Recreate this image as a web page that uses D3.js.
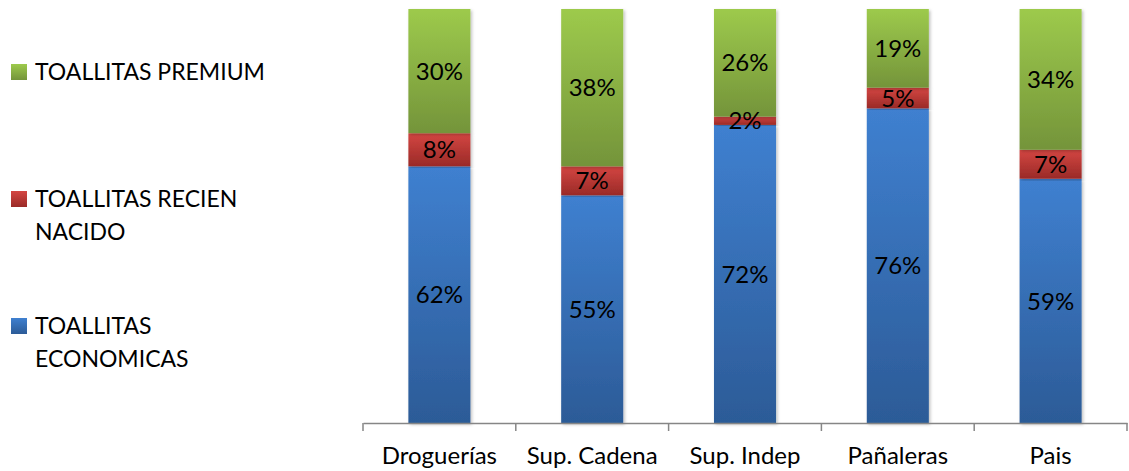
<!DOCTYPE html>
<html>
<head>
<meta charset="utf-8">
<script src="https://cdn.jsdelivr.net/npm/d3@7"></script>
<style>
  body { margin: 0; background: #fff; }
  text { font-family: Lato, 'Open Sans', sans-serif; fill: #000; }
</style>
</head>
<body>
<div id="chart"></div>
<script>
const categories = ['Droguerías', 'Sup. Cadena', 'Sup. Indep', 'Pañaleras', 'Pais'];
const economicas = [62, 55, 72, 76, 59];
const recienNacido = [8, 7, 2, 5, 7];
const premium = [30, 38, 26, 19, 34];
const seriesNames = ['TOALLITAS ECONOMICAS', 'TOALLITAS RECIEN NACIDO', 'TOALLITAS PREMIUM'];

const W = 1129, H = 471;
const margin = { t: 9, r: 2, b: 48, l: 363 };
const innerWidth = W - margin.l - margin.r;
const innerHeight = H - margin.t - margin.b;

// gradient pairs per series (top, bottom)
const grads = [
  ['#3f80d0', '#2c5b97'],
  ['#d44642', '#9a2a27'],
  ['#9dca4c', '#74943a']
];

const rows = categories.map((c, i) => ({
  cat: c, s0: economicas[i], s1: recienNacido[i], s2: premium[i]
}));
const stack = d3.stack().keys(['s0', 's1', 's2'])(rows);

const svg = d3.select('#chart').append('svg')
  .attr('width', W).attr('height', H);

const defs = svg.append('defs');
grads.forEach((g, i) => {
  const lg = defs.append('linearGradient')
    .attr('id', 'g' + i).attr('x1', 0).attr('y1', 0).attr('x2', 0).attr('y2', 1);
  lg.append('stop').attr('offset', '0%').attr('stop-color', g[0]);
  lg.append('stop').attr('offset', '100%').attr('stop-color', g[1]);
});
const f = defs.append('filter').attr('id', 'shadow')
  .attr('x', '-20%').attr('y', '-5%').attr('width', '140%').attr('height', '110%');
f.append('feDropShadow').attr('dx', 1.5).attr('dy', 1.5).attr('stdDeviation', 1.5)
  .attr('flood-color', '#000').attr('flood-opacity', 0.25);

const x = d3.scaleBand().domain(categories).range([0, innerWidth]).paddingInner(0.594).paddingOuter(0.297);
const y = d3.scaleLinear().domain([0, 100]).range([innerHeight, 0]);

const plot = svg.append('g')
  .attr('transform', `translate(${margin.l}, ${margin.t})`);

const layers = plot.selectAll('.layer')
  .data(stack)
  .enter().append('g')
  .attr('class', 'layer');

layers.selectAll('rect')
  .data((d, i) => d.map(v => ({ v, i })))
  .enter().append('rect')
  .attr('x', d => x(d.v.data.cat))
  .attr('y', d => y(d.v[1]))
  .attr('width', x.bandwidth())
  .attr('height', d => y(d.v[0]) - y(d.v[1]))
  .attr('fill', d => `url(#g${d.i})`)
  .attr('filter', 'url(#shadow)');

// labels drawn after all bars so none gets covered
plot.append('g').attr('class', 'labels')
  .selectAll('text')
  .data(stack.flatMap(s => s))
  .enter().append('text')
  .attr('x', d => x(d.data.cat) + x.bandwidth() / 2)
  .attr('y', d => (y(d[0]) + y(d[1])) / 2)
  .attr('dy', '0.36em')
  .attr('text-anchor', 'middle')
  .style('font-size', '24px')
  .text(d => (d[1] - d[0]) + '%');

// x axis
const axisX = d3.axisBottom(x).tickSize(0).tickPadding(24);
const gx = plot.append('g')
  .attr('class', 'axis axis-x')
  .attr('transform', `translate(0, ${innerHeight})`)
  .call(axisX);
gx.select('.domain').attr('stroke', '#868686').attr('stroke-width', 1.5);
gx.selectAll('text').style('font-size', '24px').style('font-family', 'Lato, sans-serif').attr('fill', '#000');

const bounds = d3.range(categories.length + 1).map(i => i * x.step());
gx.selectAll('.sep')
  .data(bounds)
  .enter().append('line')
  .attr('x1', d => d).attr('x2', d => d)
  .attr('y1', 0).attr('y2', 8)
  .attr('stroke', '#868686').attr('stroke-width', 1.5);

// legend
const legend = [
  { i: 2, lines: ['TOALLITAS PREMIUM'], y: 72 },
  { i: 1, lines: ['TOALLITAS RECIEN', 'NACIDO'], y: 199 },
  { i: 0, lines: ['TOALLITAS', 'ECONOMICAS'], y: 326 }
];
const lg = svg.append('g').attr('class', 'legend');
legend.forEach(l => {
  lg.append('rect')
    .attr('x', 11).attr('y', l.y - 8).attr('width', 16).attr('height', 16)
    .attr('fill', `url(#g${l.i})`);
  l.lines.forEach((t, k) => {
    lg.append('text')
      .attr('x', 35).attr('y', l.y + k * 33)
      .attr('dy', '0.36em')
      .style('font-size', '23px')
      .text(t);
  });
});
</script>
</body>
</html>
